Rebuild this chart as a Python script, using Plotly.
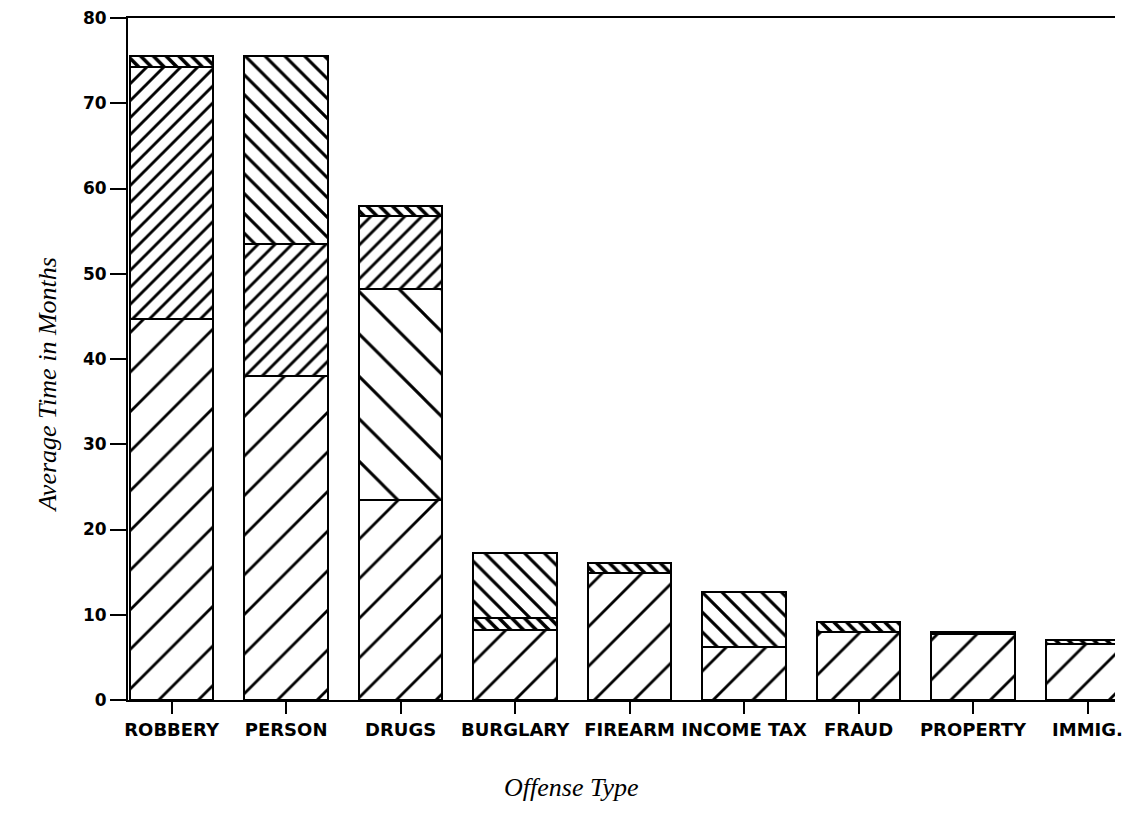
import plotly.graph_objects as go

categories = ["ROBBERY", "PERSON", "DRUGS", "BURGLARY", "FIREARM",
              "INCOME TAX", "FRAUD", "PROPERTY", "IMMIG."]

# stacked segment heights (months), bottom to top
seg_a = [44.7, 38.0, 23.5, 8.2, 14.9, 6.2, 8.0, 7.7, 6.6]          # wide "/"
seg_b = [None, None, 24.7, None, None, None, None, None, None]     # wide "\"
seg_c = [29.5, 15.5, 8.6, None, None, None, None, None, None]      # dense "/"
seg_d = [1.3, None, 1.2, 1.4, 1.2, None, 1.2, 0.3, 0.4]            # thin stripe band
seg_e = [None, 22.0, None, 7.7, None, 6.5, None, None, None]       # dense "\"

y_ticks = [0, 10, 20, 30, 40, 50, 60, 70, 80]

styles = [
    (seg_a, "/", 28, 0.10),
    (seg_b, "\\", 30, 0.10),
    (seg_c, "/", 12, 0.24),
    (seg_d, "\\", 9, 0.40),
    (seg_e, "\\", 14, 0.22),
]

fig = go.Figure()
for vals, shape, size, sol in styles:
    fig.add_trace(go.Bar(
        x=categories, y=vals, width=0.73,
        marker=dict(
            color="white",
            line=dict(color="black", width=2),
            pattern=dict(shape=shape, fgcolor="black", bgcolor="white",
                         size=size, solidity=sol, fillmode="replace"),
        ),
        showlegend=False,
    ))

tick_font = dict(family="DejaVu Sans", size=18, color="black", weight="bold")
title_font = dict(family="Liberation Serif", size=26, color="black", style="italic")

fig.update_layout(
    barmode="stack",
    width=1115, height=806,
    margin=dict(l=120, r=0, t=10, b=114),
    paper_bgcolor="white", plot_bgcolor="white",
    xaxis=dict(
        range=[-0.381, 8.24],
        showline=True, linecolor="black", linewidth=2, mirror=True,
        ticks="outside", ticklen=12, tickwidth=1.5, tickcolor="black",
        tickfont=tick_font, showgrid=False,
    ),
    yaxis=dict(
        range=[0, 80], tickvals=y_ticks,
        showline=True, linecolor="black", linewidth=2,
        ticks="outside", ticklen=16, tickwidth=2, tickcolor="black",
        tickfont=dict(family="DejaVu Sans", size=17, color="black", weight="bold"),
        ticklabeloverflow="allow",
        showgrid=False, zeroline=False,
    ),
    annotations=[
        dict(text="Offense Type", font=title_font, showarrow=False,
             xref="paper", yref="paper", x=0.449, y=0,
             xanchor="center", yanchor="middle", yshift=-87),
        dict(text="Average Time in Months", font=title_font, showarrow=False,
             xref="paper", yref="paper", x=0, y=0.461, textangle=-90,
             xanchor="center", yanchor="middle", xshift=-80),
    ],
)

fig.write_html("out.html")
